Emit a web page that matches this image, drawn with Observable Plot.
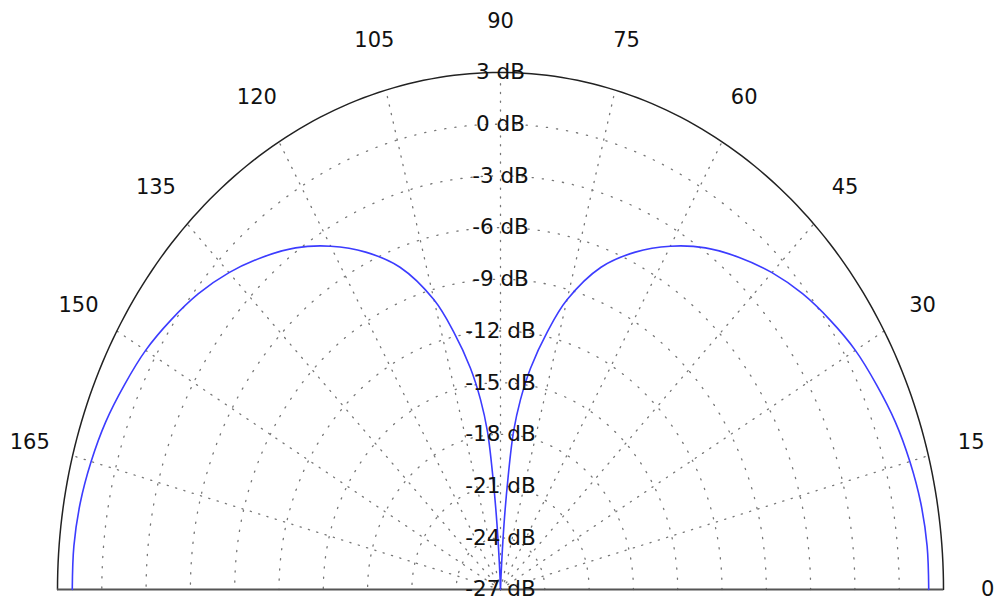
<!DOCTYPE html>
<html>
<head>
<meta charset="utf-8">
<script src="https://cdn.jsdelivr.net/npm/d3@7"></script>
<script src="https://cdn.jsdelivr.net/npm/@observablehq/plot@0.6"></script>
<style>
  body { margin: 0; background: #fff; }
  #chart svg { display: block; }
</style>
</head>
<body>
<div id="chart"></div>
<script>
// Radiation pattern: angle (degrees) -> gain (dB)
const angles = [0,5,10,15,20,25,30,35,40,45,50,55,60,65,70,75,78,81,83,84.5,85.5,86.4,87.5,90,
                92.5,93.6,94.5,95.5,97,99,102,105,110,115,120,125,130,135,140,145,150,155,160,165,170,175,180];
const gainDb = [2.0,2.0,1.9,1.7,1.45,1.1,0.75,0.25,-0.3,-1.0,-1.85,-2.8,-4.0,-5.4,-7.1,-9.6,
                -11.7,-14.0,-15.9,-17.8,-20.5,-23.2,-26.3,-27.0,-26.3,-23.2,-20.5,-17.8,-15.9,-14.0,-11.7,
                -9.6,-7.1,-5.4,-4.0,-2.8,-1.85,-1.0,-0.3,0.25,0.75,1.1,1.45,1.7,1.9,2.0,2.0];

// Radial ticks (dB) and angle ticks
const minDb = -27;
const maxDb = 3;
const ringTicks = [-27,-24,-21,-18,-15,-12,-9,-6,-3,0,3];
const angleTicks = [0,15,30,45,60,75,90,105,120,135,150,165];
const spokeAngles = [15,30,45,60,75,90,105,120,135,150,165];

const rad = d => d * Math.PI / 180;
const R = db => db - minDb;           // radius in scale units
const rMax = R(maxDb);
const labelR = rMax * 1.1;

// pattern points
const pattern = angles.map((a, i) => ({a, r: R(gainDb[i])}));

// grid rings (dotted, inner) and outer ring (solid)
const sweep = d3.range(0, 181, 1);
const ringData = [];
for (const t of ringTicks.slice(1, -1)) {
  for (const a of sweep) ringData.push({ring: t, a, r: R(t)});
}
const outerData = sweep.map(a => ({a, r: rMax}));

const font = "'DejaVu Sans', sans-serif";

const chart = Plot.plot({
  width: 997,
  height: 600,
  marginLeft: 57,
  marginRight: 54,
  marginTop: 72,
  marginBottom: 11,
  style: {fontFamily: font, background: "#fff", overflow: "visible"},
  x: {domain: [-rMax, rMax], axis: null},
  y: {domain: [0, rMax], axis: null},
  marks: [
    // dotted rings
    Plot.line(ringData, {
      x: d => d.r * Math.cos(rad(d.a)), y: d => d.r * Math.sin(rad(d.a)), z: "ring",
      stroke: "#777", strokeWidth: 1.3, strokeDasharray: "1.2,9", strokeLinecap: "round"
    }),
    // dotted spokes
    Plot.link(spokeAngles, {
      x1: 0, y1: 0,
      x2: a => rMax * Math.cos(rad(a)), y2: a => rMax * Math.sin(rad(a)),
      stroke: "#777", strokeWidth: 1.3, strokeDasharray: "1.2,7.5", strokeLinecap: "round"
    }),
    // outer ring
    Plot.line(outerData, {
      x: d => d.r * Math.cos(rad(d.a)), y: d => d.r * Math.sin(rad(d.a)),
      stroke: "#222", strokeWidth: 1.5
    }),
    // baseline
    Plot.ruleY([0], {x1: -rMax, x2: rMax, stroke: "#555", strokeWidth: 2}),
    // pattern
    Plot.line(pattern, {
      x: d => d.r * Math.cos(rad(d.a)), y: d => d.r * Math.sin(rad(d.a)),
      stroke: "#3c3cff", strokeWidth: 1.6, curve: "catmull-rom"
    }),
    // radial labels
    Plot.text(ringTicks, {
      x: 0, y: t => R(t), text: t => `${t} dB`,
      fontSize: 21.5, fill: "#111", textAnchor: "middle", fontFamily: font
    }),
    // angle labels
    Plot.text(angleTicks, {
      x: a => labelR * Math.cos(rad(a)), y: a => labelR * Math.sin(rad(a)),
      text: a => String(a), fontSize: 21, fill: "#111", textAnchor: "middle", fontFamily: font
    })
  ]
});

document.getElementById("chart").appendChild(chart);
</script>
</body>
</html>
